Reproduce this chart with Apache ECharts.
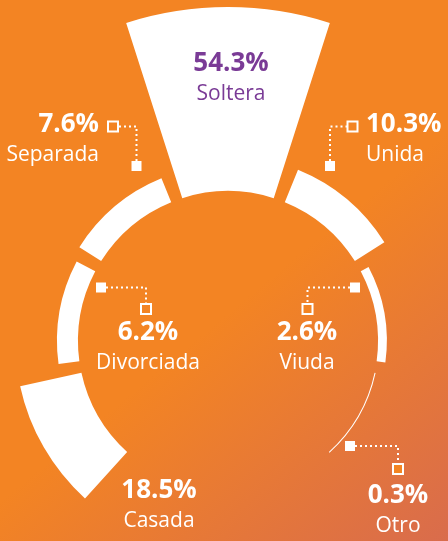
<!DOCTYPE html>
<html>
<head>
<meta charset="utf-8">
<script src="https://cdn.jsdelivr.net/npm/echarts@6/dist/echarts.min.js"></script>
<style>
  html, body { margin: 0; padding: 0; }
  #chart { width: 448px; height: 541px; }
</style>
</head>
<body>
<div id="chart"></div>
<script>
// estado civil, % (clockwise from the top)
const categories = ['Soltera', 'Unida', 'Viuda', 'Otro', 'Casada', 'Divorciada', 'Separada']
const values = [54.3, 10.3, 2.6, 0.3, 18.5, 6.2, 7.6]
// two empty slots sit between Otro and Casada at the bottom
const emptyAfter = 'Otro'
const emptySlots = 2

const cx = 228
const cy = 341
const font = '"Open Sans", "Noto Sans", sans-serif'
const purple = '#7a3b96'

// label anchor per category (pixel layout of the poster)
const labelPos = {
  Soltera: { x: 231, y: 79, align: 'center' },
  Unida: { x: 366, y: 140, align: 'left' },
  Viuda: { x: 307, y: 348, align: 'center' },
  Otro: { x: 398, y: 511, align: 'center' },
  Casada: { x: 159, y: 506, align: 'center' },
  Divorciada: { x: 148, y: 348, align: 'center' },
  Separada: { x: 99, y: 140, align: 'right' }
}

// dotted connectors: filled square (slice side), bend, hollow square (label side)
const connectors = [
  [[136.5, 166], [136.5, 126.5], [113, 126.5]],
  [[330, 166], [330, 126.5], [352.5, 126.5]],
  [[101, 287.5], [146, 287.5], [146, 309]],
  [[355, 287.5], [307.5, 287.5], [307.5, 309]],
  [[350, 446], [398, 446], [398, 469]]
]

const seriesData = []
categories.forEach((name, i) => {
  seriesData.push({
    name: name,
    value: values[i],
    label: name === 'Soltera' ? {
      rich: {
        v: { color: purple },
        n: { color: purple }
      }
    } : {}
  })
  if (name === emptyAfter) {
    for (let k = 0; k < emptySlots; k++) {
      seriesData.push({
        name: '',
        value: 0,
        itemStyle: { opacity: 0 },
        label: { show: false },
        emphasis: { disabled: true }
      })
    }
  }
})

function connectorGraphics() {
  const out = []
  connectors.forEach(c => {
    const [f, b, h] = c
    out.push({
      type: 'polyline',
      shape: { points: [f, b, h] },
      style: { stroke: '#fff', lineWidth: 2, lineDash: [2, 3], fill: null },
      z: 10
    })
    out.push({
      type: 'rect',
      shape: { x: f[0] - 5, y: f[1] - 5, width: 10, height: 10 },
      style: { fill: '#fff' },
      z: 11
    })
    out.push({
      type: 'rect',
      shape: { x: h[0] - 5, y: h[1] - 5, width: 10, height: 10 },
      style: { fill: '#f38423', stroke: '#fff', lineWidth: 2 },
      z: 11
    })
  })
  return out
}

const chart = echarts.init(document.getElementById('chart'))

chart.setOption({
  backgroundColor: {
    type: 'linear',
    x: 0, y: 0, x2: 1, y2: 1,
    colorStops: [
      { offset: 0, color: '#f38423' },
      { offset: 0.55, color: '#f38423' },
      { offset: 1, color: '#d96c4c' }
    ]
  },
  animation: false,
  graphic: connectorGraphics(),
  series: [
    {
      type: 'pie',
      roseType: 'area',
      center: [cx, cy],
      radius: [150, 334],
      startAngle: 110,
      clockwise: true,
      padAngle: 4.5,
      avoidLabelOverlap: false,
      itemStyle: { color: '#fff' },
      label: {
        show: true,
        position: 'inside',
        fontFamily: font,
        formatter: p => '{v|' + p.value.toFixed(1) + '%}\n{n|' + p.name + '}',
        rich: {
          v: { fontFamily: font, fontSize: 26, fontWeight: 'bold', color: '#fff', lineHeight: 30 },
          n: { fontFamily: font, fontSize: 21, color: '#fff', lineHeight: 30 }
        }
      },
      labelLine: { show: false },
      labelLayout: params => {
        const name = seriesData[params.dataIndex].name
        const p = labelPos[name]
        if (!p) return {}
        return { x: p.x, y: p.y, align: p.align, verticalAlign: 'middle' }
      },
      data: seriesData
    }
  ]
})
</script>
</body>
</html>
